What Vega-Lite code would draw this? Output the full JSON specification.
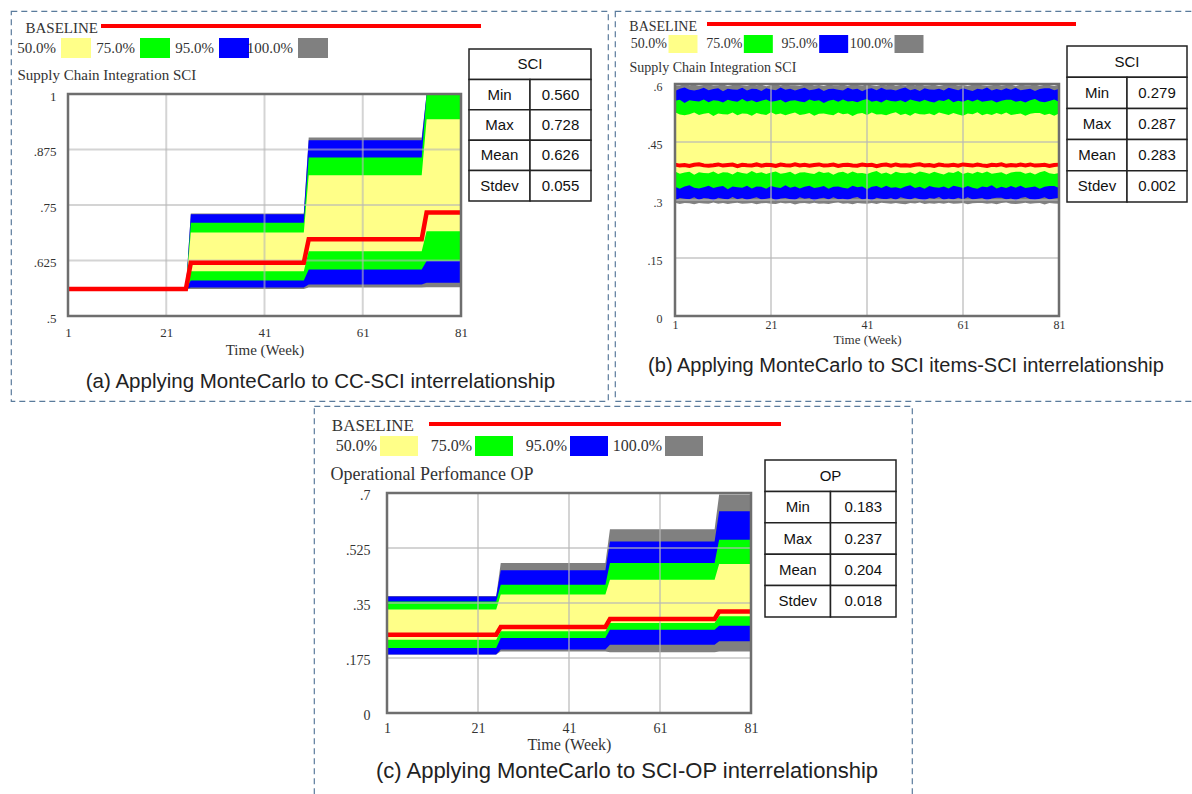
{
"$schema": "https://vega.github.io/schema/vega-lite/v6.json",
"background": "white",
"padding": {"left": 10, "top": 10, "right": 0, "bottom": 0},
"config": {"view": {"stroke": "#5a7b9c", "strokeDash": [6, 4], "strokeWidth": 1.2}, "font": "Liberation Sans"},
"datasets": {
"A": [
{"w":1,"g0":0.561,"b0":0.561,"n0":0.561,"y0":0.561,"r":0.561,"y1":0.561,"n1":0.561,"b1":0.561,"g1":0.561},
{"w":25,"g0":0.561,"b0":0.561,"n0":0.561,"y0":0.561,"r":0.561,"y1":0.561,"n1":0.561,"b1":0.561,"g1":0.561},
{"w":26,"g0":0.561,"b0":0.564,"n0":0.58,"y0":0.601,"r":0.62,"y1":0.688,"n1":0.71,"b1":0.729,"g1":0.731},
{"w":49,"g0":0.561,"b0":0.564,"n0":0.58,"y0":0.601,"r":0.62,"y1":0.688,"n1":0.71,"b1":0.729,"g1":0.731},
{"w":50,"g0":0.564,"b0":0.571,"n0":0.605,"y0":0.646,"r":0.673,"y1":0.817,"n1":0.857,"b1":0.896,"g1":0.902},
{"w":73,"g0":0.564,"b0":0.571,"n0":0.605,"y0":0.646,"r":0.673,"y1":0.817,"n1":0.857,"b1":0.896,"g1":0.902},
{"w":74,"g0":0.565,"b0":0.575,"n0":0.624,"y0":0.691,"r":0.733,"y1":0.943,"n1":1,"b1":1,"g1":1},
{"w":81,"g0":0.565,"b0":0.575,"n0":0.624,"y0":0.691,"r":0.733,"y1":0.943,"n1":1,"b1":1,"g1":1}
],
"C": [
{"w":1,"g0":0.186,"b0":0.186,"n0":0.207,"y0":0.233,"r":0.249,"y1":0.329,"n1":0.355,"b1":0.371,"g1":0.372},
{"w":25,"g0":0.186,"b0":0.186,"n0":0.207,"y0":0.233,"r":0.249,"y1":0.329,"n1":0.355,"b1":0.371,"g1":0.372},
{"w":26,"g0":0.196,"b0":0.202,"n0":0.239,"y0":0.26,"r":0.274,"y1":0.377,"n1":0.408,"b1":0.454,"g1":0.477},
{"w":49,"g0":0.196,"b0":0.202,"n0":0.239,"y0":0.26,"r":0.274,"y1":0.377,"n1":0.408,"b1":0.454,"g1":0.477},
{"w":50,"g0":0.193,"b0":0.217,"n0":0.265,"y0":0.286,"r":0.299,"y1":0.424,"n1":0.477,"b1":0.546,"g1":0.585},
{"w":73,"g0":0.193,"b0":0.217,"n0":0.265,"y0":0.286,"r":0.299,"y1":0.424,"n1":0.477,"b1":0.546,"g1":0.585},
{"w":74,"g0":0.196,"b0":0.228,"n0":0.278,"y0":0.308,"r":0.323,"y1":0.474,"n1":0.551,"b1":0.642,"g1":0.695},
{"w":81,"g0":0.196,"b0":0.228,"n0":0.278,"y0":0.308,"r":0.323,"y1":0.474,"n1":0.551,"b1":0.642,"g1":0.695}
],
"B": [
{"w":1,"g0":0.293,"b0":0.298,"n0":0.334,"y0":0.374,"r":0.3915,"y1":0.527,"n1":0.557,"b1":0.582,"g1":0.597},
{"w":2,"g0":0.2895,"b0":0.305,"n0":0.329,"y0":0.368,"r":0.389,"y1":0.521,"n1":0.559,"b1":0.588,"g1":0.596},
{"w":3,"g0":0.292,"b0":0.303,"n0":0.335,"y0":0.371,"r":0.3905,"y1":0.519,"n1":0.551,"b1":0.591,"g1":0.5995},
{"w":4,"g0":0.2915,"b0":0.302,"n0":0.338,"y0":0.373,"r":0.388,"y1":0.522,"n1":0.558,"b1":0.585,"g1":0.5965},
{"w":5,"g0":0.289,"b0":0.307,"n0":0.332,"y0":0.365,"r":0.391,"y1":0.526,"n1":0.556,"b1":0.583,"g1":0.598},
{"w":6,"g0":0.2925,"b0":0.3,"n0":0.33,"y0":0.372,"r":0.3925,"y1":0.52,"n1":0.555,"b1":0.586,"g1":0.5955},
{"w":7,"g0":0.291,"b0":0.305,"n0":0.333,"y0":0.37,"r":0.3895,"y1":0.523,"n1":0.56,"b1":0.59,"g1":0.5975},
{"w":8,"g0":0.29,"b0":0.304,"n0":0.337,"y0":0.369,"r":0.3885,"y1":0.525,"n1":0.553,"b1":0.584,"g1":0.599},
{"w":9,"g0":0.2935,"b0":0.299,"n0":0.331,"y0":0.374,"r":0.39,"y1":0.517,"n1":0.558,"b1":0.587,"g1":0.596},
{"w":10,"g0":0.2905,"b0":0.306,"n0":0.334,"y0":0.367,"r":0.392,"y1":0.524,"n1":0.557,"b1":0.589,"g1":0.597},
{"w":11,"g0":0.292,"b0":0.303,"n0":0.336,"y0":0.372,"r":0.389,"y1":0.522,"n1":0.552,"b1":0.581,"g1":0.5985},
{"w":12,"g0":0.2895,"b0":0.301,"n0":0.328,"y0":0.371,"r":0.3905,"y1":0.521,"n1":0.559,"b1":0.588,"g1":0.595},
{"w":13,"g0":0.2915,"b0":0.308,"n0":0.335,"y0":0.366,"r":0.3915,"y1":0.526,"n1":0.556,"b1":0.586,"g1":0.5975},
{"w":14,"g0":0.293,"b0":0.302,"n0":0.333,"y0":0.373,"r":0.3875,"y1":0.519,"n1":0.554,"b1":0.585,"g1":0.598},
{"w":15,"g0":0.29,"b0":0.305,"n0":0.332,"y0":0.37,"r":0.391,"y1":0.524,"n1":0.561,"b1":0.59,"g1":0.5965},
{"w":16,"g0":0.291,"b0":0.3,"n0":0.337,"y0":0.368,"r":0.39,"y1":0.523,"n1":0.555,"b1":0.583,"g1":0.5955},
{"w":17,"g0":0.2925,"b0":0.304,"n0":0.33,"y0":0.375,"r":0.3895,"y1":0.518,"n1":0.558,"b1":0.588,"g1":0.599},
{"w":18,"g0":0.289,"b0":0.307,"n0":0.335,"y0":0.369,"r":0.392,"y1":0.525,"n1":0.553,"b1":0.587,"g1":0.597},
{"w":19,"g0":0.2915,"b0":0.301,"n0":0.334,"y0":0.372,"r":0.3885,"y1":0.522,"n1":0.557,"b1":0.582,"g1":0.598},
{"w":20,"g0":0.292,"b0":0.303,"n0":0.329,"y0":0.367,"r":0.391,"y1":0.52,"n1":0.56,"b1":0.589,"g1":0.5945},
{"w":21,"g0":0.2905,"b0":0.306,"n0":0.336,"y0":0.371,"r":0.3905,"y1":0.527,"n1":0.554,"b1":0.586,"g1":0.5975},
{"w":22,"g0":0.2895,"b0":0.299,"n0":0.333,"y0":0.374,"r":0.388,"y1":0.521,"n1":0.556,"b1":0.584,"g1":0.5985},
{"w":23,"g0":0.293,"b0":0.304,"n0":0.331,"y0":0.368,"r":0.3915,"y1":0.524,"n1":0.559,"b1":0.591,"g1":0.596},
{"w":24,"g0":0.291,"b0":0.305,"n0":0.338,"y0":0.37,"r":0.39,"y1":0.519,"n1":0.552,"b1":0.585,"g1":0.599},
{"w":25,"g0":0.292,"b0":0.302,"n0":0.332,"y0":0.373,"r":0.389,"y1":0.523,"n1":0.557,"b1":0.588,"g1":0.5965},
{"w":26,"g0":0.2885,"b0":0.3,"n0":0.335,"y0":0.366,"r":0.3925,"y1":0.526,"n1":0.558,"b1":0.583,"g1":0.597},
{"w":27,"g0":0.2915,"b0":0.307,"n0":0.33,"y0":0.371,"r":0.3895,"y1":0.52,"n1":0.555,"b1":0.587,"g1":0.5955},
{"w":28,"g0":0.2925,"b0":0.303,"n0":0.334,"y0":0.372,"r":0.391,"y1":0.522,"n1":0.553,"b1":0.59,"g1":0.598},
{"w":29,"g0":0.29,"b0":0.305,"n0":0.337,"y0":0.369,"r":0.3885,"y1":0.525,"n1":0.56,"b1":0.584,"g1":0.5995},
{"w":30,"g0":0.293,"b0":0.298,"n0":0.331,"y0":0.367,"r":0.3905,"y1":0.518,"n1":0.556,"b1":0.586,"g1":0.596},
{"w":31,"g0":0.2905,"b0":0.304,"n0":0.333,"y0":0.374,"r":0.392,"y1":0.523,"n1":0.558,"b1":0.589,"g1":0.5975},
{"w":32,"g0":0.291,"b0":0.306,"n0":0.336,"y0":0.37,"r":0.389,"y1":0.524,"n1":0.551,"b1":0.582,"g1":0.595},
{"w":33,"g0":0.2895,"b0":0.301,"n0":0.329,"y0":0.372,"r":0.39,"y1":0.521,"n1":0.557,"b1":0.587,"g1":0.5985},
{"w":34,"g0":0.292,"b0":0.307,"n0":0.334,"y0":0.365,"r":0.3915,"y1":0.519,"n1":0.559,"b1":0.588,"g1":0.597},
{"w":35,"g0":0.2935,"b0":0.302,"n0":0.335,"y0":0.371,"r":0.388,"y1":0.526,"n1":0.554,"b1":0.585,"g1":0.5965},
{"w":36,"g0":0.29,"b0":0.303,"n0":0.332,"y0":0.373,"r":0.3905,"y1":0.522,"n1":0.56,"b1":0.583,"g1":0.598},
{"w":37,"g0":0.2915,"b0":0.3,"n0":0.33,"y0":0.368,"r":0.391,"y1":0.524,"n1":0.555,"b1":0.59,"g1":0.5955},
{"w":38,"g0":0.289,"b0":0.305,"n0":0.337,"y0":0.374,"r":0.3895,"y1":0.517,"n1":0.556,"b1":0.586,"g1":0.599},
{"w":39,"g0":0.2925,"b0":0.308,"n0":0.333,"y0":0.369,"r":0.3885,"y1":0.523,"n1":0.553,"b1":0.588,"g1":0.5975},
{"w":40,"g0":0.291,"b0":0.301,"n0":0.335,"y0":0.37,"r":0.392,"y1":0.525,"n1":0.558,"b1":0.581,"g1":0.596},
{"w":41,"g0":0.2905,"b0":0.304,"n0":0.328,"y0":0.367,"r":0.39,"y1":0.52,"n1":0.561,"b1":0.587,"g1":0.5985},
{"w":42,"g0":0.292,"b0":0.299,"n0":0.334,"y0":0.372,"r":0.391,"y1":0.526,"n1":0.554,"b1":0.589,"g1":0.5965},
{"w":43,"g0":0.2895,"b0":0.306,"n0":0.336,"y0":0.375,"r":0.3875,"y1":0.521,"n1":0.557,"b1":0.584,"g1":0.595},
{"w":44,"g0":0.293,"b0":0.303,"n0":0.331,"y0":0.368,"r":0.3905,"y1":0.522,"n1":0.552,"b1":0.59,"g1":0.598},
{"w":45,"g0":0.2915,"b0":0.302,"n0":0.337,"y0":0.371,"r":0.3915,"y1":0.519,"n1":0.559,"b1":0.585,"g1":0.597},
{"w":46,"g0":0.29,"b0":0.305,"n0":0.332,"y0":0.366,"r":0.389,"y1":0.524,"n1":0.556,"b1":0.586,"g1":0.5995},
{"w":47,"g0":0.2925,"b0":0.3,"n0":0.333,"y0":0.373,"r":0.392,"y1":0.527,"n1":0.555,"b1":0.583,"g1":0.5955},
{"w":48,"g0":0.2905,"b0":0.307,"n0":0.33,"y0":0.37,"r":0.3895,"y1":0.52,"n1":0.558,"b1":0.588,"g1":0.5975},
{"w":49,"g0":0.289,"b0":0.304,"n0":0.335,"y0":0.369,"r":0.39,"y1":0.523,"n1":0.553,"b1":0.591,"g1":0.596},
{"w":50,"g0":0.292,"b0":0.301,"n0":0.338,"y0":0.372,"r":0.3885,"y1":0.518,"n1":0.56,"b1":0.584,"g1":0.5985},
{"w":51,"g0":0.291,"b0":0.306,"n0":0.331,"y0":0.367,"r":0.391,"y1":0.525,"n1":0.557,"b1":0.587,"g1":0.5965},
{"w":52,"g0":0.2935,"b0":0.302,"n0":0.334,"y0":0.374,"r":0.3925,"y1":0.522,"n1":0.554,"b1":0.582,"g1":0.599},
{"w":53,"g0":0.2895,"b0":0.299,"n0":0.329,"y0":0.371,"r":0.389,"y1":0.521,"n1":0.559,"b1":0.589,"g1":0.596},
{"w":54,"g0":0.2915,"b0":0.305,"n0":0.336,"y0":0.368,"r":0.3905,"y1":0.524,"n1":0.555,"b1":0.586,"g1":0.597},
{"w":55,"g0":0.29,"b0":0.303,"n0":0.333,"y0":0.373,"r":0.388,"y1":0.519,"n1":0.552,"b1":0.585,"g1":0.598},
{"w":56,"g0":0.2925,"b0":0.308,"n0":0.332,"y0":0.369,"r":0.3915,"y1":0.526,"n1":0.558,"b1":0.588,"g1":0.595},
{"w":57,"g0":0.2905,"b0":0.3,"n0":0.335,"y0":0.366,"r":0.39,"y1":0.523,"n1":0.556,"b1":0.583,"g1":0.5975},
{"w":58,"g0":0.293,"b0":0.304,"n0":0.33,"y0":0.372,"r":0.3895,"y1":0.52,"n1":0.561,"b1":0.59,"g1":0.5985},
{"w":59,"g0":0.29,"b0":0.301,"n0":0.337,"y0":0.37,"r":0.391,"y1":0.525,"n1":0.553,"b1":0.587,"g1":0.5985},
{"w":60,"g0":0.291,"b0":0.306,"n0":0.334,"y0":0.375,"r":0.3885,"y1":0.521,"n1":0.557,"b1":0.584,"g1":0.596},
{"w":61,"g0":0.292,"b0":0.302,"n0":0.331,"y0":0.367,"r":0.392,"y1":0.518,"n1":0.554,"b1":0.589,"g1":0.5975},
{"w":62,"g0":0.289,"b0":0.307,"n0":0.336,"y0":0.371,"r":0.3905,"y1":0.524,"n1":0.559,"b1":0.585,"g1":0.595},
{"w":63,"g0":0.2915,"b0":0.301,"n0":0.332,"y0":0.368,"r":0.389,"y1":0.522,"n1":0.555,"b1":0.582,"g1":0.598},
{"w":64,"g0":0.2925,"b0":0.303,"n0":0.329,"y0":0.373,"r":0.3915,"y1":0.527,"n1":0.56,"b1":0.588,"g1":0.5995},
{"w":65,"g0":0.2925,"b0":0.305,"n0":0.335,"y0":0.369,"r":0.3895,"y1":0.519,"n1":0.554,"b1":0.586,"g1":0.5965},
{"w":66,"g0":0.29,"b0":0.299,"n0":0.333,"y0":0.374,"r":0.388,"y1":0.523,"n1":0.556,"b1":0.591,"g1":0.5955},
{"w":67,"g0":0.2915,"b0":0.304,"n0":0.338,"y0":0.368,"r":0.391,"y1":0.52,"n1":0.558,"b1":0.583,"g1":0.597},
{"w":68,"g0":0.289,"b0":0.306,"n0":0.33,"y0":0.37,"r":0.39,"y1":0.525,"n1":0.552,"b1":0.587,"g1":0.599},
{"w":69,"g0":0.292,"b0":0.306,"n0":0.334,"y0":0.372,"r":0.3925,"y1":0.521,"n1":0.557,"b1":0.584,"g1":0.596},
{"w":70,"g0":0.2935,"b0":0.301,"n0":0.331,"y0":0.366,"r":0.3885,"y1":0.526,"n1":0.559,"b1":0.589,"g1":0.5975},
{"w":71,"g0":0.2905,"b0":0.304,"n0":0.336,"y0":0.371,"r":0.3905,"y1":0.52,"n1":0.559,"b1":0.585,"g1":0.5985},
{"w":72,"g0":0.2895,"b0":0.299,"n0":0.332,"y0":0.373,"r":0.389,"y1":0.522,"n1":0.554,"b1":0.59,"g1":0.5945},
{"w":73,"g0":0.291,"b0":0.305,"n0":0.337,"y0":0.373,"r":0.3915,"y1":0.524,"n1":0.557,"b1":0.584,"g1":0.598},
{"w":74,"g0":0.293,"b0":0.308,"n0":0.331,"y0":0.368,"r":0.3895,"y1":0.518,"n1":0.552,"b1":0.586,"g1":0.597},
{"w":75,"g0":0.29,"b0":0.302,"n0":0.333,"y0":0.371,"r":0.392,"y1":0.523,"n1":0.558,"b1":0.588,"g1":0.5965},
{"w":76,"g0":0.2915,"b0":0.3,"n0":0.335,"y0":0.366,"r":0.389,"y1":0.525,"n1":0.561,"b1":0.582,"g1":0.599},
{"w":77,"g0":0.2925,"b0":0.303,"n0":0.329,"y0":0.372,"r":0.39,"y1":0.525,"n1":0.555,"b1":0.587,"g1":0.5955},
{"w":78,"g0":0.2885,"b0":0.307,"n0":0.334,"y0":0.375,"r":0.391,"y1":0.52,"n1":0.553,"b1":0.589,"g1":0.598},
{"w":79,"g0":0.292,"b0":0.301,"n0":0.336,"y0":0.369,"r":0.388,"y1":0.523,"n1":0.556,"b1":0.589,"g1":0.5975},
{"w":80,"g0":0.291,"b0":0.304,"n0":0.336,"y0":0.367,"r":0.3905,"y1":0.518,"n1":0.56,"b1":0.584,"g1":0.595},
{"w":81,"g0":0.2905,"b0":0.306,"n0":0.331,"y0":0.37,"r":0.3915,"y1":0.524,"n1":0.554,"b1":0.587,"g1":0.5985}
],
"gx": [{"w": 21}, {"w": 41}, {"w": 61}],
"leg": [{"k": "50.0%", "row": "legend"}, {"k": "75.0%", "row": "legend"}, {"k": "95.0%", "row": "legend"}, {"k": "100.0%", "row": "legend"}],
"base": [{"s": "start", "e": "end", "row": "baseline"}],
"frame": [{"f": 1}]
},
"spacing": 3,
"vconcat": [
{"hconcat": [
{
"width": 597, "height": 390,
"title": {"text": "(a) Applying MonteCarlo to CC-SCI interrelationship", "orient": "bottom", "offset": -19, "baseline": "middle", "anchor": "middle", "dx": 11, "font": "Liberation Sans", "fontSize": 20.5, "fontWeight": "normal", "color": "#222"},
"resolve": {"scale": {"x": "independent", "y": "independent", "color": "independent"}, "axis": {"x": "independent", "y": "independent"}},
"layer": [
  {"data": {"name": "A"}, "mark": {"type": "area", "color": "#808080"},
   "encoding": {
    "x": {"field": "w", "type": "quantitative", "scale": {"domain": [1, 81], "range": [57, 450], "nice": false, "zero": false},
          "axis": {"values": [1, 21, 41, 61, 81], "format": "d", "offset": -85, "domain": false, "ticks": false, "tickSize": 0, "grid": false, "labelFont": "Liberation Serif", "labelFontSize": 13, "labelColor": "#333", "labelPadding": 10, "labelFlush": false, "labelOverlap": false, "title": "Time (Week)", "titleFont": "Liberation Serif", "titleFontSize": 15, "titleFontWeight": "normal", "titleColor": "#333", "titlePadding": 3}},
    "y": {"field": "g1", "type": "quantitative", "scale": {"domain": [0.5, 1], "range": [305, 83], "nice": false, "zero": false},
          "axis": {"values": [0.5, 0.625, 0.75, 0.875, 1], "labelExpr": "datum.value == 0 ? '0' : datum.value == 1 ? '1' : replace(format(datum.value, '.3~f'), '0.', '.')", "offset": -57, "domain": false, "ticks": false, "tickSize": 0, "grid": false, "labelFont": "Liberation Serif", "labelFontSize": 13, "labelColor": "#333", "labelPadding": 12, "labelOffset": 2, "labelFlush": false, "labelOverlap": false, "title": "Supply Chain Integration SCI", "titleAngle": 0, "titleAlign": "left", "titleBaseline": "middle", "titleX": -51, "titleY": 63, "titleFont": "Liberation Serif", "titleFontSize": 15, "titleFontWeight": "normal", "titleColor": "#333"}},
    "y2": {"field": "g0"}}},
  {"data": {"name": "A"}, "mark": {"type": "area", "color": "#0000ff"}, "encoding": {"x": {"field": "w", "type": "quantitative", "scale": {"domain": [1, 81], "range": [57, 450], "nice": false, "zero": false}, "axis": null}, "y": {"field": "b1", "type": "quantitative", "scale": {"domain": [0.5, 1], "range": [305, 83], "nice": false, "zero": false}, "axis": null}, "y2": {"field": "b0"}}},
  {"data": {"name": "A"}, "mark": {"type": "area", "color": "#00ff00"}, "encoding": {"x": {"field": "w", "type": "quantitative", "scale": {"domain": [1, 81], "range": [57, 450], "nice": false, "zero": false}, "axis": null}, "y": {"field": "n1", "type": "quantitative", "scale": {"domain": [0.5, 1], "range": [305, 83], "nice": false, "zero": false}, "axis": null}, "y2": {"field": "n0"}}},
  {"data": {"name": "A"}, "mark": {"type": "area", "color": "#ffff88"}, "encoding": {"x": {"field": "w", "type": "quantitative", "scale": {"domain": [1, 81], "range": [57, 450], "nice": false, "zero": false}, "axis": null}, "y": {"field": "y1", "type": "quantitative", "scale": {"domain": [0.5, 1], "range": [305, 83], "nice": false, "zero": false}, "axis": null}, "y2": {"field": "y0"}}},
  {"data": {"name": "gx"}, "mark": {"type": "rule", "color": "#b8b8b8", "strokeWidth": 2, "opacity": 0.6}, "encoding": {"x": {"field": "w", "type": "quantitative", "scale": {"domain": [1, 81], "range": [57, 450], "nice": false, "zero": false}, "axis": null}, "y": {"datum": 0.5, "scale": {"domain": [0.5, 1], "range": [305, 83], "nice": false, "zero": false}, "axis": null}, "y2": {"datum": 1}}},
  {"data": {"values": [{"v": 0.625}, {"v": 0.75}, {"v": 0.875}]}, "mark": {"type": "rule", "color": "#b8b8b8", "strokeWidth": 2, "opacity": 0.6}, "encoding": {"y": {"field": "v", "type": "quantitative", "scale": {"domain": [0.5, 1], "range": [305, 83], "nice": false, "zero": false}, "axis": null}, "x": {"datum": 1, "scale": {"domain": [1, 81], "range": [57, 450], "nice": false, "zero": false}, "axis": null}, "x2": {"datum": 81}}},
  {"data": {"name": "A"}, "mark": {"type": "line", "color": "#ff0000", "strokeWidth": 4.5}, "encoding": {"x": {"field": "w", "type": "quantitative", "scale": {"domain": [1, 81], "range": [57, 450], "nice": false, "zero": false}, "axis": null}, "y": {"field": "r", "type": "quantitative", "scale": {"domain": [0.5, 1], "range": [305, 83], "nice": false, "zero": false}, "axis": null}}},
  {"data": {"name": "frame"}, "mark": {"type": "rect", "filled": false, "stroke": "#6e6e6e", "strokeWidth": 2.5}, "encoding": {"x": {"datum": 1, "scale": {"domain": [1, 81], "range": [57, 450], "nice": false, "zero": false}, "axis": null}, "x2": {"datum": 81}, "y": {"datum": 0.5, "scale": {"domain": [0.5, 1], "range": [305, 83], "nice": false, "zero": false}, "axis": null}, "y2": {"datum": 1}}},
{"data": {"name": "leg"},
 "encoding": {
  "x": {"field": "k", "type": "nominal", "scale": {"type": "point", "domain": ["50.0%", "75.0%", "95.0%", "100.0%"], "range": [65, 302], "padding": 0}, "axis": null},
  "y": {"field": "row", "type": "nominal", "scale": {"type": "point", "domain": ["legend"], "range": [37, 37], "padding": 0}, "axis": null}},
 "layer": [
  {"mark": {"type": "rect", "width": 30, "height": 20}, "encoding": {"color": {"field": "k", "type": "nominal", "scale": {"domain": ["50.0%", "75.0%", "95.0%", "100.0%"], "range": ["#ffff88", "#00ff00", "#0000ff", "#808080"]}, "legend": null}}},
  {"mark": {"type": "text", "align": "right", "baseline": "middle", "dx": -20, "font": "Liberation Serif", "fontSize": 15, "color": "#333"}, "encoding": {"text": {"field": "k"}}}
 ]},
{"data": {"name": "base"},
 "encoding": {
  "x": {"field": "s", "type": "nominal", "scale": {"type": "point", "domain": ["start", "end"], "range": [90, 470], "padding": 0}, "axis": null},
  "y": {"field": "row", "type": "nominal", "scale": {"type": "point", "domain": ["baseline"], "range": [15, 15], "padding": 0}, "axis": null}},
 "layer": [
  {"mark": {"type": "rule", "color": "#ff0000", "strokeWidth": 4}, "encoding": {"x2": {"field": "e"}}},
  {"mark": {"type": "text", "text": "BASELINE", "align": "right", "baseline": "middle", "dx": -3, "dy": 2, "font": "Liberation Serif", "fontSize": 15, "color": "#333"}}
 ]},
{"data": {"values": [
  {"t": "SCI", "c": 2, "c0": 0, "c1": 4, "r": 1, "r0": 0, "r1": 2},
  {"t": "Min", "c": 1, "c0": 0, "c1": 2, "r": 3, "r0": 2, "r1": 4},
  {"t": "0.560", "c": 3, "c0": 2, "c1": 4, "r": 3, "r0": 2, "r1": 4},
  {"t": "Max", "c": 1, "c0": 0, "c1": 2, "r": 5, "r0": 4, "r1": 6},
  {"t": "0.728", "c": 3, "c0": 2, "c1": 4, "r": 5, "r0": 4, "r1": 6},
  {"t": "Mean", "c": 1, "c0": 0, "c1": 2, "r": 7, "r0": 6, "r1": 8},
  {"t": "0.626", "c": 3, "c0": 2, "c1": 4, "r": 7, "r0": 6, "r1": 8},
  {"t": "Stdev", "c": 1, "c0": 0, "c1": 2, "r": 9, "r0": 8, "r1": 10},
  {"t": "0.055", "c": 3, "c0": 2, "c1": 4, "r": 9, "r0": 8, "r1": 10}]},
 "layer": [
  {"mark": {"type": "rect", "fill": "white", "stroke": "#222", "strokeWidth": 1.5}, "encoding": {"x": {"field": "c0", "type": "quantitative", "scale": {"domain": [0, 4], "range": [458, 580], "nice": false, "zero": false}, "axis": null}, "x2": {"field": "c1"}, "y": {"field": "r0", "type": "quantitative", "scale": {"domain": [0, 10], "range": [38, 190], "nice": false, "zero": false}, "axis": null}, "y2": {"field": "r1"}}},
  {"mark": {"type": "text", "font": "Liberation Sans", "fontSize": 15, "color": "#111", "baseline": "middle"}, "encoding": {"x": {"field": "c", "type": "quantitative", "axis": null}, "y": {"field": "r", "type": "quantitative", "axis": null}, "text": {"field": "t"}}}
 ]}
]
},
{
"width": 578, "height": 390,
"title": {"text": "(b) Applying MonteCarlo to SCI items-SCI interrelationship", "orient": "bottom", "offset": -35, "baseline": "middle", "anchor": "middle", "dx": 2, "font": "Liberation Sans", "fontSize": 20, "fontWeight": "normal", "color": "#222"},
"resolve": {"scale": {"x": "independent", "y": "independent", "color": "independent"}, "axis": {"x": "independent", "y": "independent"}},
"layer": [
  {"data": {"name": "B"}, "mark": {"type": "area", "color": "#808080"},
   "encoding": {
    "x": {"field": "w", "type": "quantitative", "scale": {"domain": [1, 81], "range": [60, 444], "nice": false, "zero": false},
          "axis": {"values": [1, 21, 41, 61, 81], "format": "d", "offset": -85, "domain": false, "ticks": false, "tickSize": 0, "grid": false, "labelFont": "Liberation Serif", "labelFontSize": 12, "labelColor": "#333", "labelPadding": 3, "labelFlush": false, "labelOverlap": false, "title": "Time (Week)", "titleFont": "Liberation Serif", "titleFontSize": 13, "titleFontWeight": "normal", "titleColor": "#333", "titlePadding": 3}},
    "y": {"field": "g1", "type": "quantitative", "scale": {"domain": [0, 0.6], "range": [305, 73], "nice": false, "zero": false},
          "axis": {"values": [0, 0.15, 0.3, 0.45, 0.6], "labelExpr": "datum.value == 0 ? '0' : datum.value == 1 ? '1' : replace(format(datum.value, '.3~f'), '0.', '.')", "offset": -60, "domain": false, "ticks": false, "tickSize": 0, "grid": false, "labelFont": "Liberation Serif", "labelFontSize": 12, "labelColor": "#333", "labelPadding": 13, "labelOffset": 2, "labelFlush": false, "labelOverlap": false, "title": "Supply Chain Integration SCI", "titleAngle": 0, "titleAlign": "left", "titleBaseline": "middle", "titleX": -46, "titleY": 56, "titleFont": "Liberation Serif", "titleFontSize": 14, "titleFontWeight": "normal", "titleColor": "#333"}},
    "y2": {"field": "g0"}}},
  {"data": {"name": "B"}, "mark": {"type": "area", "color": "#0000ff"}, "encoding": {"x": {"field": "w", "type": "quantitative", "scale": {"domain": [1, 81], "range": [60, 444], "nice": false, "zero": false}, "axis": null}, "y": {"field": "b1", "type": "quantitative", "scale": {"domain": [0, 0.6], "range": [305, 73], "nice": false, "zero": false}, "axis": null}, "y2": {"field": "b0"}}},
  {"data": {"name": "B"}, "mark": {"type": "area", "color": "#00ff00"}, "encoding": {"x": {"field": "w", "type": "quantitative", "scale": {"domain": [1, 81], "range": [60, 444], "nice": false, "zero": false}, "axis": null}, "y": {"field": "n1", "type": "quantitative", "scale": {"domain": [0, 0.6], "range": [305, 73], "nice": false, "zero": false}, "axis": null}, "y2": {"field": "n0"}}},
  {"data": {"name": "B"}, "mark": {"type": "area", "color": "#ffff88"}, "encoding": {"x": {"field": "w", "type": "quantitative", "scale": {"domain": [1, 81], "range": [60, 444], "nice": false, "zero": false}, "axis": null}, "y": {"field": "y1", "type": "quantitative", "scale": {"domain": [0, 0.6], "range": [305, 73], "nice": false, "zero": false}, "axis": null}, "y2": {"field": "y0"}}},
  {"data": {"name": "gx"}, "mark": {"type": "rule", "color": "#b8b8b8", "strokeWidth": 2, "opacity": 0.6}, "encoding": {"x": {"field": "w", "type": "quantitative", "scale": {"domain": [1, 81], "range": [60, 444], "nice": false, "zero": false}, "axis": null}, "y": {"datum": 0, "scale": {"domain": [0, 0.6], "range": [305, 73], "nice": false, "zero": false}, "axis": null}, "y2": {"datum": 0.6}}},
  {"data": {"values": [{"v": 0.15}, {"v": 0.3}, {"v": 0.45}]}, "mark": {"type": "rule", "color": "#b8b8b8", "strokeWidth": 2, "opacity": 0.6}, "encoding": {"y": {"field": "v", "type": "quantitative", "scale": {"domain": [0, 0.6], "range": [305, 73], "nice": false, "zero": false}, "axis": null}, "x": {"datum": 1, "scale": {"domain": [1, 81], "range": [60, 444], "nice": false, "zero": false}, "axis": null}, "x2": {"datum": 81}}},
  {"data": {"name": "B"}, "mark": {"type": "line", "color": "#ff0000", "strokeWidth": 4}, "encoding": {"x": {"field": "w", "type": "quantitative", "scale": {"domain": [1, 81], "range": [60, 444], "nice": false, "zero": false}, "axis": null}, "y": {"field": "r", "type": "quantitative", "scale": {"domain": [0, 0.6], "range": [305, 73], "nice": false, "zero": false}, "axis": null}}},
  {"data": {"name": "frame"}, "mark": {"type": "rect", "filled": false, "stroke": "#6e6e6e", "strokeWidth": 2.5}, "encoding": {"x": {"datum": 1, "scale": {"domain": [1, 81], "range": [60, 444], "nice": false, "zero": false}, "axis": null}, "x2": {"datum": 81}, "y": {"datum": 0, "scale": {"domain": [0, 0.6], "range": [305, 73], "nice": false, "zero": false}, "axis": null}, "y2": {"datum": 0.6}}},
{"data": {"name": "leg"},
 "encoding": {
  "x": {"field": "k", "type": "nominal", "scale": {"type": "point", "domain": ["50.0%", "75.0%", "95.0%", "100.0%"], "range": [68, 294], "padding": 0}, "axis": null},
  "y": {"field": "row", "type": "nominal", "scale": {"type": "point", "domain": ["legend"], "range": [33, 33], "padding": 0}, "axis": null}},
 "layer": [
  {"mark": {"type": "rect", "width": 29, "height": 18}, "encoding": {"color": {"field": "k", "type": "nominal", "scale": {"domain": ["50.0%", "75.0%", "95.0%", "100.0%"], "range": ["#ffff88", "#00ff00", "#0000ff", "#808080"]}, "legend": null}}},
  {"mark": {"type": "text", "align": "right", "baseline": "middle", "dx": -16, "font": "Liberation Serif", "fontSize": 14, "color": "#333"}, "encoding": {"text": {"field": "k"}}}
 ]},
{"data": {"name": "base"},
 "encoding": {
  "x": {"field": "s", "type": "nominal", "scale": {"type": "point", "domain": ["start", "end"], "range": [92, 461], "padding": 0}, "axis": null},
  "y": {"field": "row", "type": "nominal", "scale": {"type": "point", "domain": ["baseline"], "range": [13, 13], "padding": 0}, "axis": null}},
 "layer": [
  {"mark": {"type": "rule", "color": "#ff0000", "strokeWidth": 4}, "encoding": {"x2": {"field": "e"}}},
  {"mark": {"type": "text", "text": "BASELINE", "align": "right", "baseline": "middle", "dx": -10, "dy": 3, "font": "Liberation Serif", "fontSize": 14, "color": "#333"}}
 ]},
{"data": {"values": [
  {"t": "SCI", "c": 2, "c0": 0, "c1": 4, "r": 1, "r0": 0, "r1": 2},
  {"t": "Min", "c": 1, "c0": 0, "c1": 2, "r": 3, "r0": 2, "r1": 4},
  {"t": "0.279", "c": 3, "c0": 2, "c1": 4, "r": 3, "r0": 2, "r1": 4},
  {"t": "Max", "c": 1, "c0": 0, "c1": 2, "r": 5, "r0": 4, "r1": 6},
  {"t": "0.287", "c": 3, "c0": 2, "c1": 4, "r": 5, "r0": 4, "r1": 6},
  {"t": "Mean", "c": 1, "c0": 0, "c1": 2, "r": 7, "r0": 6, "r1": 8},
  {"t": "0.283", "c": 3, "c0": 2, "c1": 4, "r": 7, "r0": 6, "r1": 8},
  {"t": "Stdev", "c": 1, "c0": 0, "c1": 2, "r": 9, "r0": 8, "r1": 10},
  {"t": "0.002", "c": 3, "c0": 2, "c1": 4, "r": 9, "r0": 8, "r1": 10}]},
 "layer": [
  {"mark": {"type": "rect", "fill": "white", "stroke": "#222", "strokeWidth": 1.5}, "encoding": {"x": {"field": "c0", "type": "quantitative", "scale": {"domain": [0, 4], "range": [452, 572], "nice": false, "zero": false}, "axis": null}, "x2": {"field": "c1"}, "y": {"field": "r0", "type": "quantitative", "scale": {"domain": [0, 10], "range": [35, 191], "nice": false, "zero": false}, "axis": null}, "y2": {"field": "r1"}}},
  {"mark": {"type": "text", "font": "Liberation Sans", "fontSize": 15, "color": "#111", "baseline": "middle"}, "encoding": {"x": {"field": "c", "type": "quantitative", "axis": null}, "y": {"field": "r", "type": "quantitative", "axis": null}, "text": {"field": "t"}}}
 ]}
]
}
], "spacing": 5},
{"hconcat": [
{"width": 290, "height": 10, "data": {"values": []}, "mark": "point", "view": {"stroke": null}},
{
"width": 598, "height": 391,
"title": {"text": "(c) Applying MonteCarlo to SCI-OP interrelationship", "orient": "bottom", "offset": -26, "baseline": "middle", "anchor": "middle", "dx": 14, "font": "Liberation Sans", "fontSize": 22, "fontWeight": "normal", "color": "#222"},
"resolve": {"scale": {"x": "independent", "y": "independent", "color": "independent"}, "axis": {"x": "independent", "y": "independent"}},
"layer": [
  {"data": {"name": "C"}, "mark": {"type": "area", "color": "#808080"},
   "encoding": {
    "x": {"field": "w", "type": "quantitative", "scale": {"domain": [1, 81], "range": [73, 437], "nice": false, "zero": false},
          "axis": {"values": [1, 21, 41, 61, 81], "format": "d", "offset": -84, "domain": false, "ticks": false, "tickSize": 0, "grid": false, "labelFont": "Liberation Serif", "labelFontSize": 14, "labelColor": "#333", "labelPadding": 8, "labelFlush": false, "labelOverlap": false, "title": "Time (Week)", "titleFont": "Liberation Serif", "titleFontSize": 16, "titleFontWeight": "normal", "titleColor": "#333", "titlePadding": 1}},
    "y": {"field": "g1", "type": "quantitative", "scale": {"domain": [0, 0.7], "range": [307, 87], "nice": false, "zero": false},
          "axis": {"values": [0, 0.175, 0.35, 0.525, 0.7], "labelExpr": "datum.value == 0 ? '0' : datum.value == 1 ? '1' : replace(format(datum.value, '.3~f'), '0.', '.')", "offset": -73, "domain": false, "ticks": false, "tickSize": 0, "grid": false, "labelFont": "Liberation Serif", "labelFontSize": 14, "labelColor": "#333", "labelPadding": 17, "labelOffset": 2, "labelFlush": false, "labelOverlap": false, "title": "Operational Perfomance OP", "titleAngle": 0, "titleAlign": "left", "titleBaseline": "middle", "titleX": -57, "titleY": 68, "titleFont": "Liberation Serif", "titleFontSize": 18, "titleFontWeight": "normal", "titleColor": "#333"}},
    "y2": {"field": "g0"}}},
  {"data": {"name": "C"}, "mark": {"type": "area", "color": "#0000ff"}, "encoding": {"x": {"field": "w", "type": "quantitative", "scale": {"domain": [1, 81], "range": [73, 437], "nice": false, "zero": false}, "axis": null}, "y": {"field": "b1", "type": "quantitative", "scale": {"domain": [0, 0.7], "range": [307, 87], "nice": false, "zero": false}, "axis": null}, "y2": {"field": "b0"}}},
  {"data": {"name": "C"}, "mark": {"type": "area", "color": "#00ff00"}, "encoding": {"x": {"field": "w", "type": "quantitative", "scale": {"domain": [1, 81], "range": [73, 437], "nice": false, "zero": false}, "axis": null}, "y": {"field": "n1", "type": "quantitative", "scale": {"domain": [0, 0.7], "range": [307, 87], "nice": false, "zero": false}, "axis": null}, "y2": {"field": "n0"}}},
  {"data": {"name": "C"}, "mark": {"type": "area", "color": "#ffff88"}, "encoding": {"x": {"field": "w", "type": "quantitative", "scale": {"domain": [1, 81], "range": [73, 437], "nice": false, "zero": false}, "axis": null}, "y": {"field": "y1", "type": "quantitative", "scale": {"domain": [0, 0.7], "range": [307, 87], "nice": false, "zero": false}, "axis": null}, "y2": {"field": "y0"}}},
  {"data": {"name": "gx"}, "mark": {"type": "rule", "color": "#b8b8b8", "strokeWidth": 2, "opacity": 0.6}, "encoding": {"x": {"field": "w", "type": "quantitative", "scale": {"domain": [1, 81], "range": [73, 437], "nice": false, "zero": false}, "axis": null}, "y": {"datum": 0, "scale": {"domain": [0, 0.7], "range": [307, 87], "nice": false, "zero": false}, "axis": null}, "y2": {"datum": 0.7}}},
  {"data": {"values": [{"v": 0.175}, {"v": 0.35}, {"v": 0.525}]}, "mark": {"type": "rule", "color": "#b8b8b8", "strokeWidth": 2, "opacity": 0.6}, "encoding": {"y": {"field": "v", "type": "quantitative", "scale": {"domain": [0, 0.7], "range": [307, 87], "nice": false, "zero": false}, "axis": null}, "x": {"datum": 1, "scale": {"domain": [1, 81], "range": [73, 437], "nice": false, "zero": false}, "axis": null}, "x2": {"datum": 81}}},
  {"data": {"name": "C"}, "mark": {"type": "line", "color": "#ff0000", "strokeWidth": 4.5}, "encoding": {"x": {"field": "w", "type": "quantitative", "scale": {"domain": [1, 81], "range": [73, 437], "nice": false, "zero": false}, "axis": null}, "y": {"field": "r", "type": "quantitative", "scale": {"domain": [0, 0.7], "range": [307, 87], "nice": false, "zero": false}, "axis": null}}},
  {"data": {"name": "frame"}, "mark": {"type": "rect", "filled": false, "stroke": "#6e6e6e", "strokeWidth": 2.5}, "encoding": {"x": {"datum": 1, "scale": {"domain": [1, 81], "range": [73, 437], "nice": false, "zero": false}, "axis": null}, "x2": {"datum": 81}, "y": {"datum": 0, "scale": {"domain": [0, 0.7], "range": [307, 87], "nice": false, "zero": false}, "axis": null}, "y2": {"datum": 0.7}}},
{"data": {"name": "leg"},
 "encoding": {
  "x": {"field": "k", "type": "nominal", "scale": {"type": "point", "domain": ["50.0%", "75.0%", "95.0%", "100.0%"], "range": [85, 370], "padding": 0}, "axis": null},
  "y": {"field": "row", "type": "nominal", "scale": {"type": "point", "domain": ["legend"], "range": [40, 40], "padding": 0}, "axis": null}},
 "layer": [
  {"mark": {"type": "rect", "width": 38, "height": 20}, "encoding": {"color": {"field": "k", "type": "nominal", "scale": {"domain": ["50.0%", "75.0%", "95.0%", "100.0%"], "range": ["#ffff88", "#00ff00", "#0000ff", "#808080"]}, "legend": null}}},
  {"mark": {"type": "text", "align": "right", "baseline": "middle", "dx": -22, "font": "Liberation Serif", "fontSize": 16, "color": "#333"}, "encoding": {"text": {"field": "k"}}}
 ]},
{"data": {"name": "base"},
 "encoding": {
  "x": {"field": "s", "type": "nominal", "scale": {"type": "point", "domain": ["start", "end"], "range": [115, 467], "padding": 0}, "axis": null},
  "y": {"field": "row", "type": "nominal", "scale": {"type": "point", "domain": ["baseline"], "range": [18, 18], "padding": 0}, "axis": null}},
 "layer": [
  {"mark": {"type": "rule", "color": "#ff0000", "strokeWidth": 4}, "encoding": {"x2": {"field": "e"}}},
  {"mark": {"type": "text", "text": "BASELINE", "align": "right", "baseline": "middle", "dx": -15, "dy": 2, "font": "Liberation Serif", "fontSize": 17, "color": "#333"}}
 ]},
{"data": {"values": [
  {"t": "OP", "c": 2, "c0": 0, "c1": 4, "r": 1, "r0": 0, "r1": 2},
  {"t": "Min", "c": 1, "c0": 0, "c1": 2, "r": 3, "r0": 2, "r1": 4},
  {"t": "0.183", "c": 3, "c0": 2, "c1": 4, "r": 3, "r0": 2, "r1": 4},
  {"t": "Max", "c": 1, "c0": 0, "c1": 2, "r": 5, "r0": 4, "r1": 6},
  {"t": "0.237", "c": 3, "c0": 2, "c1": 4, "r": 5, "r0": 4, "r1": 6},
  {"t": "Mean", "c": 1, "c0": 0, "c1": 2, "r": 7, "r0": 6, "r1": 8},
  {"t": "0.204", "c": 3, "c0": 2, "c1": 4, "r": 7, "r0": 6, "r1": 8},
  {"t": "Stdev", "c": 1, "c0": 0, "c1": 2, "r": 9, "r0": 8, "r1": 10},
  {"t": "0.018", "c": 3, "c0": 2, "c1": 4, "r": 9, "r0": 8, "r1": 10}]},
 "layer": [
  {"mark": {"type": "rect", "fill": "white", "stroke": "#222", "strokeWidth": 1.5}, "encoding": {"x": {"field": "c0", "type": "quantitative", "scale": {"domain": [0, 4], "range": [451, 582], "nice": false, "zero": false}, "axis": null}, "x2": {"field": "c1"}, "y": {"field": "r0", "type": "quantitative", "scale": {"domain": [0, 10], "range": [54, 211], "nice": false, "zero": false}, "axis": null}, "y2": {"field": "r1"}}},
  {"mark": {"type": "text", "font": "Liberation Sans", "fontSize": 15, "color": "#111", "baseline": "middle"}, "encoding": {"x": {"field": "c", "type": "quantitative", "axis": null}, "y": {"field": "r", "type": "quantitative", "axis": null}, "text": {"field": "t"}}}
 ]}
]
}
], "spacing": 12}
]
}
